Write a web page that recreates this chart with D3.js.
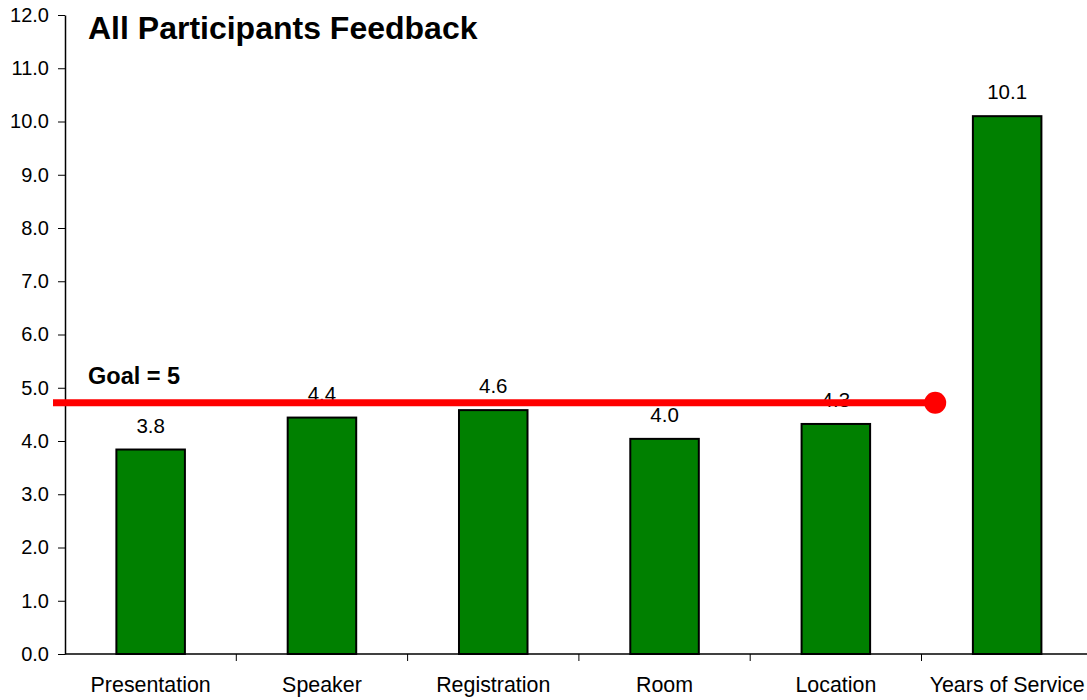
<!DOCTYPE html>
<html>
<head>
<meta charset="utf-8">
<script src="https://cdn.jsdelivr.net/npm/d3@7"></script>
<style>
  body { margin: 0; background: #fff; }
  svg { display: block; font-family: Arial, "Liberation Sans", sans-serif; }
</style>
</head>
<body>
<div id="chart"></div>
<script>
// data
const categories = ["Presentation", "Speaker", "Registration", "Room", "Location", "Years of Service"];
const scores = [3.84, 4.44, 4.58, 4.04, 4.32, 10.1];
const scoreLabels = ["3.8", "4.4", "4.6", "4.0", "4.3", "10.1"];
const yTicks = [0, 1, 2, 3, 4, 5, 6, 7, 8, 9, 10, 11, 12];
const goalValue = 4.72;
const goalSpan = [-0.07, 5.08];   // in category units
const goalLabel = "Goal = 5";
const chartTitle = "All Participants Feedback";

const width = 1087, height = 700;
const plotLeft = 65, plotTop = 15, plotBottom = 654;
const step = 171.3;

const svg = d3.select("#chart").append("svg")
    .attr("width", width).attr("height", height);

const x = d3.scaleBand().domain(categories)
    .range([plotLeft, plotLeft + step * categories.length])
    .paddingInner(0.6).paddingOuter(0.3);
const xPos = d3.scaleLinear().domain([0, categories.length])
    .range([plotLeft, plotLeft + step * categories.length]);
const y = d3.scaleLinear().domain([0, 12]).range([plotBottom, plotTop]);

// y axis
const yAxis = svg.append("g")
    .attr("transform", `translate(${plotLeft},0)`)
    .call(d3.axisLeft(y).tickValues(yTicks).tickFormat(d3.format(".1f"))
        .tickSize(7).tickPadding(9).tickSizeOuter(0));
yAxis.select(".domain").attr("stroke", "#000").attr("stroke-width", 1.5);
yAxis.selectAll(".tick line").attr("stroke", "#000");
yAxis.selectAll(".tick text").attr("font-size", 20).attr("fill", "#000")
    .attr("font-family", "Arial, 'Liberation Sans', sans-serif");

// x axis
svg.append("line")
    .attr("x1", plotLeft).attr("x2", width)
    .attr("y1", plotBottom).attr("y2", plotBottom)
    .attr("stroke", "#000").attr("stroke-width", 1.5);
svg.selectAll(".xtick")
    .data(d3.range(1, categories.length))
    .enter().append("line")
    .attr("x1", d => xPos(d)).attr("x2", d => xPos(d))
    .attr("y1", plotBottom).attr("y2", plotBottom + 7)
    .attr("stroke", "#000");
svg.selectAll(".xlabel")
    .data(categories)
    .enter().append("text")
    .attr("x", d => x(d) + x.bandwidth() / 2)
    .attr("y", 692)
    .attr("text-anchor", "middle")
    .attr("font-size", 21.4)
    .text(d => d);

// bars
svg.selectAll(".bar")
    .data(categories)
    .enter().append("rect")
    .attr("x", d => x(d))
    .attr("y", (d, i) => y(scores[i]))
    .attr("width", x.bandwidth())
    .attr("height", (d, i) => y(0) - y(scores[i]))
    .attr("fill", "#008000")
    .attr("stroke", "#000")
    .attr("stroke-width", 2);

svg.selectAll(".vlabel")
    .data(categories)
    .enter().append("text")
    .attr("x", d => x(d) + x.bandwidth() / 2)
    .attr("y", (d, i) => y(scores[i]) - 17)
    .attr("text-anchor", "middle")
    .attr("font-size", 20.5)
    .text((d, i) => scoreLabels[i]);

// goal line
svg.append("line")
    .attr("x1", xPos(goalSpan[0])).attr("x2", xPos(goalSpan[1]))
    .attr("y1", y(goalValue)).attr("y2", y(goalValue))
    .attr("stroke", "#ff0000").attr("stroke-width", 7);
svg.append("circle")
    .attr("cx", xPos(goalSpan[1])).attr("cy", y(goalValue))
    .attr("r", 11).attr("fill", "#ff0000");

svg.append("text")
    .attr("x", 88).attr("y", 384)
    .attr("font-size", 23.5).attr("font-weight", "bold")
    .text(goalLabel);

svg.append("text")
    .attr("x", 88).attr("y", 39)
    .attr("font-size", 32).attr("font-weight", "bold")
    .text(chartTitle);
</script>
</body>
</html>
